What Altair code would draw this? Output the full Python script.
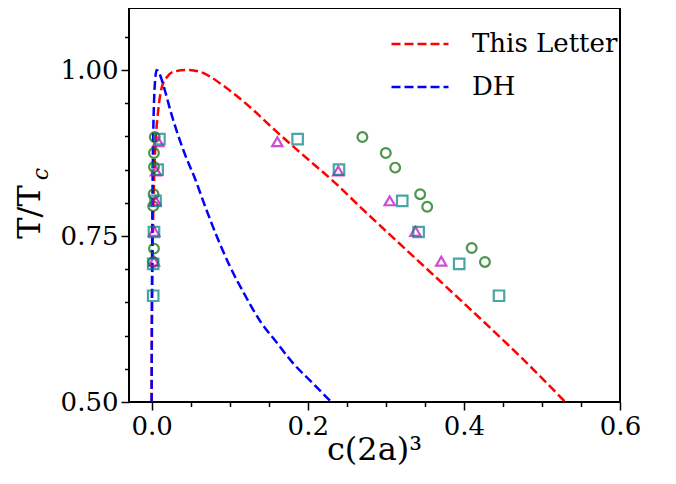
import altair as alt
import pandas as pd

# ---- model curves ----
letter_x = [0.0, 0.0003, 0.001, 0.002, 0.0035, 0.0055, 0.0085, 0.0128, 0.02, 0.03, 0.045,
            0.06, 0.075, 0.09, 0.11, 0.13, 0.15, 0.19, 0.235, 0.267, 0.33, 0.408, 0.47, 0.53]
letter_y = [0.5, 0.6, 0.7, 0.78, 0.85, 0.9, 0.94, 0.973, 0.99, 0.998, 1.0,
            0.998, 0.99, 0.978, 0.96, 0.94, 0.918, 0.876, 0.830, 0.794, 0.725, 0.640, 0.571, 0.5]

dh_x = [0.0, 0.0005, 0.001, 0.002, 0.003, 0.0045, 0.0064, 0.009, 0.013, 0.018, 0.025,
        0.033, 0.043, 0.055, 0.07, 0.085, 0.1, 0.12, 0.14, 0.16, 0.18, 0.205, 0.23]
dh_y = [0.5, 0.7, 0.8, 0.9, 0.95, 0.985, 1.0, 0.997, 0.985, 0.965, 0.935,
        0.905, 0.872, 0.838, 0.79, 0.745, 0.705, 0.66, 0.62, 0.59, 0.56, 0.53, 0.5]

# ---- simulation points ----
circle_x = [0.004, 0.003, 0.003, 0.0025, 0.002, 0.003, 0.002,
            0.270, 0.300, 0.312, 0.344, 0.353, 0.410, 0.427]
circle_y = [0.899, 0.875, 0.854, 0.813, 0.795, 0.731, 0.711,
            0.899, 0.875, 0.853, 0.813, 0.794, 0.732, 0.711]

tri_x = [0.0085, 0.0055, 0.005, 0.0033, 0.003, 0.161, 0.239, 0.305, 0.338, 0.371]
tri_y = [0.892, 0.848, 0.803, 0.757, 0.712, 0.892, 0.848, 0.803, 0.757, 0.712]

sq_x = [0.010, 0.0077, 0.005, 0.003, 0.002, 0.002, 0.187, 0.240, 0.321, 0.342, 0.394, 0.445]
sq_y = [0.896, 0.850, 0.803, 0.756, 0.708, 0.660, 0.896, 0.850, 0.803, 0.756, 0.708, 0.660]

series_names = ["This Letter", "DH"]
series_colors = ["#ff0000", "#0000ff"]

x_ticks = [round(i * 0.05, 2) for i in range(0, 13)]
y_ticks = [round(0.5 + i * 0.05, 2) for i in range(0, 12)]

FONT = "DejaVu Serif"

lines = pd.concat([
    pd.DataFrame({"x": letter_x, "y": letter_y, "series": "This Letter", "i": range(len(letter_x))}),
    pd.DataFrame({"x": dh_x, "y": dh_y, "series": "DH", "i": range(len(dh_x))}),
])
circles = pd.DataFrame({"x": circle_x, "y": circle_y})
tris = pd.DataFrame({"x": tri_x, "y": tri_y})
squares = pd.DataFrame({"x": sq_x, "y": sq_y})

x_major = "abs(datum.value*5 - round(datum.value*5)) < 1e-6"
y_major = "abs(datum.value*4 - round(datum.value*4)) < 1e-6"

x_axis = alt.Axis(
    values=x_ticks, title=None, domain=False, grid=False,
    labelExpr=f"{x_major} ? format(datum.value, '.1f') : ''",
    tickSize={"condition": {"test": x_major, "value": 8}, "value": 4.5},
    tickWidth=1.5, tickColor="black", labelFont=FONT, labelFontSize=26,
    labelColor="black", labelPadding=3, labelFlush=False, labelOverlap=False,
)
y_axis = alt.Axis(
    values=y_ticks, title=None, domain=False, grid=False,
    labelExpr=f"{y_major} ? format(datum.value, '.2f') : ''",
    tickSize={"condition": {"test": y_major, "value": 8}, "value": 4.5},
    tickWidth=1.5, tickColor="black", labelFont=FONT, labelFontSize=26,
    labelColor="black", labelPadding=3, labelFlush=False, labelOverlap=False,
)

X = alt.X("x:Q", scale=alt.Scale(domain=[-0.029, 0.6], nice=False, zero=False), axis=x_axis)
Y = alt.Y("y:Q", scale=alt.Scale(domain=[0.5, 1.0934], nice=False, zero=False), axis=y_axis)

color = alt.Color(
    "series:N",
    scale=alt.Scale(domain=series_names, range=series_colors),
    legend=alt.Legend(
        title=None, orient="none", legendX=261, legendY=6,
        symbolType="stroke", symbolSize=3249, symbolStrokeWidth=2.5,
        symbolDash=[9, 4], labelFont=FONT, labelFontSize=26, labelColor="black",
        labelOffset=22, rowPadding=-21, padding=0,
    ),
)

red = alt.Chart(lines).transform_filter(alt.datum.series == "This Letter").mark_line(
    strokeDash=[9, 4], strokeWidth=2.5, interpolate="monotone"
).encode(x=X, y=Y, color=color, order="i:Q")
blue = alt.Chart(lines).transform_filter(alt.datum.series == "DH").mark_line(
    strokeDash=[9, 4], strokeWidth=2.5, interpolate="monotone"
).encode(x=X, y=Y, color=color, order="i:Q")

pc = alt.Chart(circles).mark_point(shape="circle", size=95, strokeWidth=2.2, color="#006a00", filled=False).encode(x=X, y=Y)
pt = alt.Chart(tris).mark_point(shape="triangle-up", size=105, strokeWidth=2.2, color="#bf00bf", filled=False).encode(x=X, y=Y)
ps = alt.Chart(squares).mark_point(shape="square", size=110, strokeWidth=2.2, color="#008080", filled=False).encode(x=X, y=Y)

lab = pd.DataFrame({"t": [""]})
ytitle = alt.Chart(lab).mark_text(
    text="T/T", angle=270, font=FONT, fontSize=32, align="center", baseline="middle", color="black"
).encode(x=alt.value(-99), y=alt.value(204))
ysub = alt.Chart(lab).mark_text(
    text="c", angle=270, font=FONT, fontSize=22, fontStyle="italic", align="center", baseline="middle", color="black"
).encode(x=alt.value(-88), y=alt.value(166))
xtitle = alt.Chart(lab).mark_text(
    text="c(2a)³", font=FONT, fontSize=32, align="center", baseline="middle", color="black"
).encode(x=alt.value(245.5), y=alt.value(442))

chart = alt.layer(red, blue, pc, pt, ps, ytitle, ysub, xtitle).properties(
    width=491, height=394,
    autosize=alt.AutoSizeParams(type="none"),
    padding={"left": 121, "top": 0, "right": 40, "bottom": 74},
    background="white",
).configure_view(stroke="black", strokeWidth=2).configure_axis(domain=False)

chart.save("out.html", embed_options={"renderer": "svg", "actions": False})
